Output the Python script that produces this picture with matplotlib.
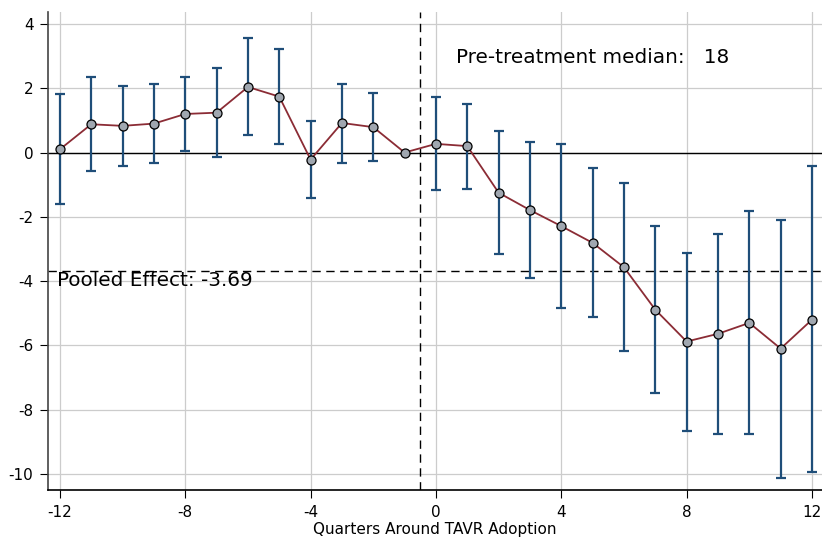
import matplotlib
matplotlib.use("Agg")
import matplotlib.pyplot as plt
import numpy as np

quarters = list(range(-12, 13))
estimates = [0.10, 0.88, 0.83, 0.90, 1.20, 1.24, 2.04, 1.74, -0.22, 0.92, 0.79, 0.00,
             0.27, 0.20, -1.25, -1.79, -2.29, -2.81, -3.57, -4.89, -5.88, -5.64, -5.30, -6.10, -5.20]
ci_upper = [1.81, 2.34, 2.06, 2.13, 2.35, 2.63, 3.55, 3.21, 0.98, 2.14, 1.84, 0.00,
            1.74, 1.52, 0.66, 0.32, 0.26, -0.49, -0.96, -2.30, -3.12, -2.55, -1.83, -2.09, -0.43]
ci_lower = [-1.60, -0.59, -0.41, -0.34, 0.05, -0.15, 0.55, 0.26, -1.42, -0.32, -0.26, 0.00,
            -1.18, -1.12, -3.16, -3.89, -4.84, -5.13, -6.16, -7.48, -8.66, -8.76, -8.76, -10.13, -9.95]
pooled_effect = -3.69
pre_median = 18
xticks = [-12, -8, -4, 0, 4, 8, 12]
yticks = [-10, -8, -6, -4, -2, 0, 2, 4]

x = np.array(quarters)
est = np.array(estimates)
up = np.array(ci_upper)
lo = np.array(ci_lower)

fig = plt.figure(figsize=(8.22, 5.37), dpi=100)
ax = fig.add_axes([0.0584, 0.0875, 0.9416, 0.890])

ax.grid(True, color="#cccccc", linewidth=0.9, zorder=0)
ax.axhline(0, color="black", linewidth=1.0, zorder=2)
ax.axvline(-0.5, color="black", linestyle=(0, (6, 4)), linewidth=1.0, zorder=2)
ax.axhline(pooled_effect, color="black", linestyle=(0, (6, 4)), linewidth=1.0, zorder=2)

mask = ~((up == 0) & (lo == 0))
ax.errorbar(x[mask], est[mask], yerr=[est[mask] - lo[mask], up[mask] - est[mask]],
            fmt="none", ecolor="#1f4e79", elinewidth=1.6, capsize=3.5, capthick=1.6, zorder=3)
ax.plot(x, est, color="#8b2c35", linewidth=1.3, zorder=4)
ax.plot(x, est, linestyle="none", marker="o", markersize=6.5, markerfacecolor="#a0a7b0",
        markeredgecolor="black", markeredgewidth=0.9, zorder=5)

ax.text(0.64, 2.97, f"Pre-treatment median:   {pre_median}", fontsize=14.4, va="center", ha="left")
ax.text(-12.1, pooled_effect, f"Pooled Effect: {pooled_effect:.2f}", fontsize=14.4, va="top", ha="left")

ax.set_xlim(-12.38, 12.32)
ax.set_ylim(-10.5, 4.37)
ax.set_xticks(xticks)
ax.set_yticks(yticks)
ax.set_xticklabels([str(t) for t in xticks])
ax.set_yticklabels([str(t) for t in yticks])
ax.tick_params(labelsize=11, direction="out", length=6, pad=4.5)
ax.set_xlabel("Quarters Around TAVR Adoption", fontsize=11, labelpad=2)

ax.spines["left"].set_color("#444444")
ax.spines["left"].set_linewidth(1.2)
ax.spines["bottom"].set_linewidth(1.2)
for s in ["top", "right"]:
    ax.spines[s].set_visible(False)

fig.savefig("out.png", dpi=100)
